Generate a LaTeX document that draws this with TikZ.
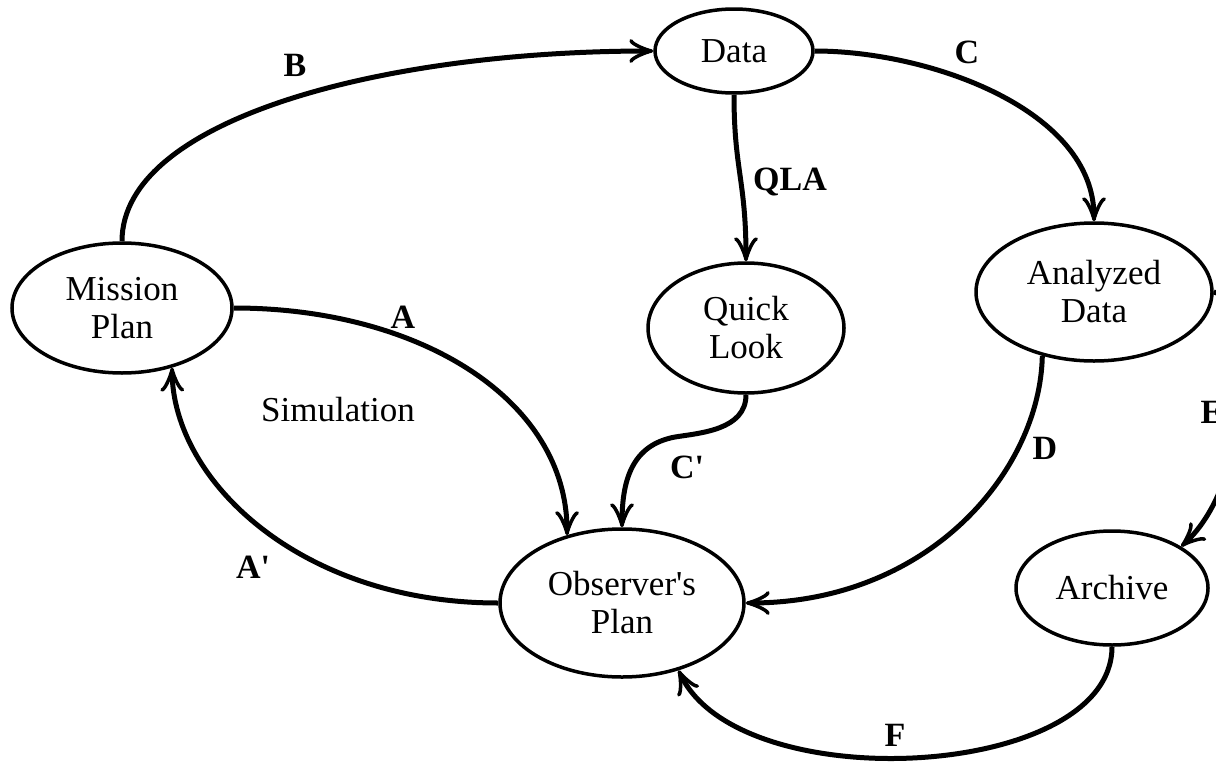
\documentclass[tikz,border=0pt]{standalone}
\usepackage{fontspec}
\setmainfont{Liberation Serif}
\usetikzlibrary{shapes.geometric,arrows.meta}
\begin{document}
\begin{tikzpicture}[x=1pt,y=-1pt,
  state/.style={ellipse,draw,line width=3.5pt,inner sep=0pt,align=center,
    font=\fontsize{35}{38}\selectfont},
  conn/.style={line width=5pt,-{Classical TikZ Rightarrow[length=24pt,width=24pt,line width=3.5pt]}},
  lab/.style={font=\fontsize{34}{38}\selectfont\bfseries,inner sep=0pt},
  txt/.style={font=\fontsize{35}{38}\selectfont,inner sep=0pt}
]
\useasboundingbox (0,0) rectangle (1216,763);
\clip (0,0) rectangle (1216,763);

% nodes
\node[state,minimum width=158pt,minimum height=84pt]  (data)     at (734,51)   {Data};
\node[state,minimum width=220pt,minimum height=130pt] (mission)  at (122,308)  {Mission\\Plan};
\node[state,minimum width=196pt,minimum height=130pt] (quick)    at (746,328)  {Quick\\Look};
\node[state,minimum width=236pt,minimum height=138pt] (analyzed) at (1094,292) {Analyzed\\Data};
\node[state,minimum width=244pt,minimum height=148pt] (observer) at (622,603)  {Observer\textquotesingle s\\Plan};
\node[state,minimum width=192pt,minimum height=114pt] (archive)  at (1112,588) {Archive};

% connectors
\draw[conn] (mission.north) .. controls (122,120) and (380,51) .. (data.west);
\draw[conn] (data.east) .. controls (930,51) and (1094,110) .. (analyzed.north);
\draw[conn] (data.south) .. controls (734,170) and (746,180) .. (quick.north);
\draw[conn] (mission.east) .. controls (420,308) and (567,400) .. (observer.129);
\draw[conn] (observer.west) .. controls (300,603) and (173,480) .. (mission.-50);
\coordinate (cbend) at (675,437);
\draw[conn] (quick.south) .. controls (746,430) and (700,433) .. (cbend)
  .. controls (632,445) and (622,480) .. (observer.north);
\draw[conn] (analyzed.231) .. controls (1040,470) and (930,603) .. (observer.east);
\draw[conn] (analyzed.east) .. controls (1255,300) and (1255,480) .. (archive.31);
\draw[conn] (archive.south) .. controls (1112,780) and (740,800) .. (observer.-50);

% labels
\node[lab] (lB)   at (295,65)  {B};
\node[lab] (lC)   at (967,52)  {C};
\node[lab] (lQLA) at (790,182) {QLA};
\node[lab] (lA)   at (403,317) {A};
\node[txt] (lSim) at (338,410) {Simulation};
\node[lab] (lCp)  at (687,467) {C\textquotesingle};
\node[lab] (lAp)  at (253,567) {A\textquotesingle};
\node[lab] (lD)   at (1045,448) {D};
\node[lab] (lE)   at (1212,412) {E};
\node[lab] (lF)   at (895,735) {F};
\end{tikzpicture}
\end{document}
